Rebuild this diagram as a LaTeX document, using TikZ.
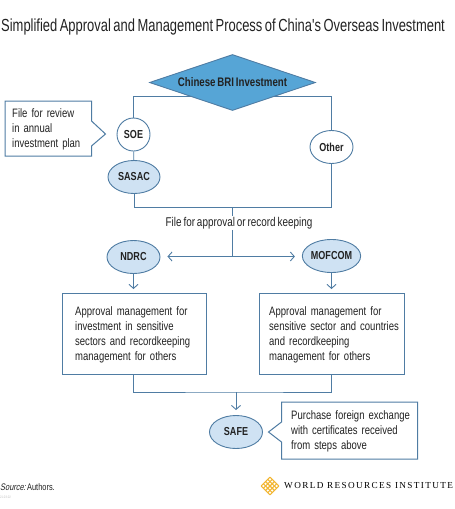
\documentclass[tikz,border=0pt]{standalone}
\usepackage{fontspec}
\setmainfont[FakeStretch=0.78,WordSpace=0.7]{Liberation Sans}
\newfontfamily\titlefont[FakeStretch=0.74,WordSpace=0.7]{Liberation Sans}
\newfontfamily\slantfont[FakeSlant=0.2,FakeStretch=0.78,WordSpace=0.7]{Liberation Sans}
\newfontfamily\logofont[LetterSpace=15]{Liberation Serif}
\usetikzlibrary{arrows.meta,shapes.geometric,backgrounds}
\definecolor{wriline}{HTML}{4F7CA3}
\definecolor{wriblue}{HTML}{56A5D6}
\definecolor{wripale}{HTML}{CFE2F3}
\definecolor{wrigold}{HTML}{F2B632}
\definecolor{wriink}{HTML}{222222}
\begin{document}
\begin{tikzpicture}[x=1pt,y=-1pt,font=\fontsize{12.2}{15}\selectfont,text=wriink]

% --- Define Styles ---
\tikzset{
    link/.style={draw=wriline, line width=0.9pt},
    arrowlink/.style={link, -{Straight Barb[length=4pt,width=9pt]}},
    agency/.style={ellipse, draw=wriline, line width=0.9pt, fill=wripale, inner sep=0pt, minimum width=53pt, minimum height=33pt, font=\fontsize{11.6}{15}\selectfont\bfseries},
    owner/.style={agency, fill=white},
    stepbox/.style={draw=wriline, line width=1pt, fill=white, minimum width=144pt, minimum height=80.5pt},
    note/.style={anchor=north west, align=left, inner sep=0pt, text width=140pt}
}

\useasboundingbox (0,0) rectangle (455,509);
\node[anchor=west, font=\fontsize{17.5}{20}\titlefont, inner sep=0pt] (title) at (1,27) {Simplified Approval and Management Process of China's Overseas Investment};

% ================= 1. OWNERSHIP =================
\node[diamond, draw=wriline, line width=0.9pt, fill=wriblue, inner sep=0pt, shape aspect=3, minimum width=166pt, minimum height=56pt, font=\fontsize{12.4}{15}\selectfont\bfseries] (bri) at (232.5,82.5) {Chinese BRI Investment};
\node[owner, minimum width=33pt] (soe) at (133.5,134.5) {SOE};
\node[agency, minimum width=52pt] (sasac) at (134,177) {SASAC};
\node[owner, minimum width=43pt] (other) at (331.5,147) {Other};
\node[inner sep=0pt, minimum height=14pt, font=\fontsize{12.7}{15}\selectfont] (filing) at (239,223) {File for approval or record keeping};
\coordinate (merge) at (232.5,207.5);
\coordinate (split) at (232.5,256.5);

\begin{scope}[on background layer]
    \draw[link] (bri.south west) -| (soe);
    \draw[link] (bri.south east) -| (other);
\end{scope}
\draw[link] (soe) -- (sasac);
\draw[link] (sasac) |- (merge) -| (other);

% review note on the left
\draw[link, line width=1pt, fill=white] (5,101) -- (91.5,101) -- (91.5,121) -- (105.5,134) -- (91.5,146) -- (91.5,156) -- (5,156) -- cycle;
\node[note] (review) at (12,108) {File for review\\in annual\\investment plan};

% ================= 2. AGENCIES =================
\node[agency] (ndrc) at (133.5,257) {NDRC};
\node[agency] (mofcom) at (331.5,256) {MOFCOM};
\draw[link] (merge) -- (merge |- filing.north);
\draw[link] (split |- filing.south) -- (split);
\draw[arrowlink, shorten >=7pt] (split) -- (ndrc.east |- split);
\draw[arrowlink, shorten >=7pt] (split) -- (mofcom.west |- split);

\node[stepbox] (leftbox) at (134.5,333.75) {};
\node[stepbox, minimum width=145.5pt] (rightbox) at (331.75,333.75) {};
\node[note] (leftnote) at (75,306) {Approval management for\\investment in sensitive\\sectors and recordkeeping\\management for others};
\node[note] (rightnote) at (269,306) {Approval management for\\sensitive sector and countries\\and recordkeeping\\management for others};
\draw[arrowlink, shorten >=4pt] (ndrc) -- (ndrc |- leftbox.north);
\draw[arrowlink, shorten >=4pt] (mofcom) -- (mofcom |- rightbox.north);

% ================= 3. FOREIGN EXCHANGE =================
\node[agency] (safe) at (236,432) {SAFE};
\coordinate (gather) at (236,392);
\draw[link] (leftbox.south -| ndrc) |- (gather) -| (rightbox.south);
\draw[arrowlink, shorten >=5pt] (gather) -- (safe);
\draw[link, line width=1pt, fill=white] (281.5,402) -- (417.5,402) -- (417.5,459) -- (281.5,459) -- (281.5,442) -- (268.5,432) -- (281.5,422) -- cycle;
\node[note] (exchange) at (291,410) {Purchase foreign exchange\\with certificates received\\from steps above};

% ================= 4. FOOTER =================
\node[anchor=west, inner sep=0pt, font=\fontsize{9.5}{12}\selectfont] (source) at (0,487) {{\slantfont Source:}\ Authors.};
\node[anchor=west, inner sep=0pt, text=black!25, font=\fontsize{3.5}{4}\selectfont] (stamp) at (0,497) {21.03.02};
% lattice of the logo
\foreach \i in {-2,...,2} {
    \draw[wrigold, line width=1.1pt] (270+\i*2.2-4.4,486+\i*2.2+4.4) -- (270+\i*2.2+4.4,486+\i*2.2-4.4);
    \draw[wrigold, line width=1.1pt] (270+\i*2.2-4.4,486-\i*2.2-4.4) -- (270+\i*2.2+4.4,486-\i*2.2+4.4);
}
\node[anchor=west, inner sep=0pt, text=black, font=\fontsize{9.2}{11}\logofont] (wri) at (284,486) {WORLD RESOURCES INSTITUTE};

\end{tikzpicture}
\end{document}
